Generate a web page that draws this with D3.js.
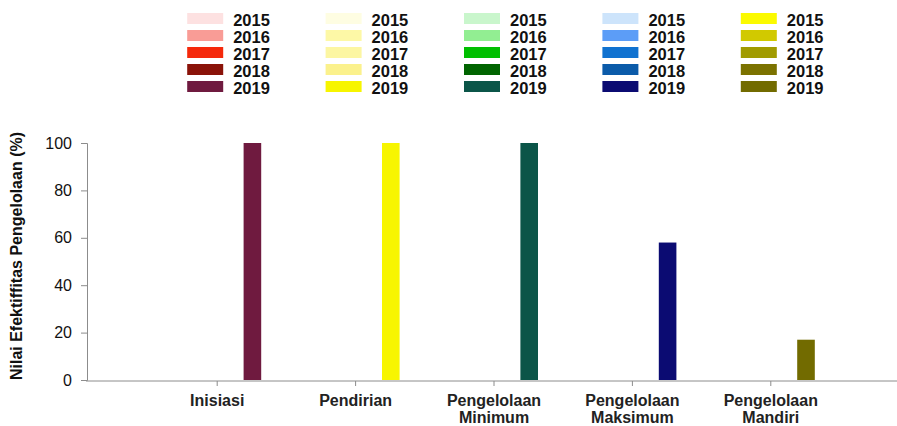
<!DOCTYPE html>
<html>
<head>
<meta charset="utf-8">
<script src="https://cdn.jsdelivr.net/npm/d3@7"></script>
<style>
  body { margin: 0; background: #fff; }
  svg { display: block; }
</style>
</head>
<body>
<div id="chart"></div>
<script>
// categories and years
var categories = ["Inisiasi", "Pendirian", "Pengelolaan Minimum", "Pengelolaan Maksimum", "Pengelolaan Mandiri"];
var years = ["2015", "2016", "2017", "2018", "2019"];

// values per year (one per category)
var values2015 = [0, 0, 0, 0, 0];
var values2016 = [0, 0, 0, 0, 0];
var values2017 = [0, 0, 0, 0, 0];
var values2018 = [0, 0, 0, 0, 0];
var values2019 = [100, 100, 100, 58, 17];

var yTicks = [0, 20, 40, 60, 80, 100];

// colours per category, 2015 -> 2019
var colInisiasi = ["#fde1e1", "#f99c96", "#f5290b", "#8a1309", "#6f1a3f"];
var colPendirian = ["#fefde2", "#fdf8a6", "#fcf6a2", "#fbf18c", "#f7f500"];
var colMinimum = ["#c9f6cc", "#92ee92", "#00bf00", "#006400", "#0b5548"];
var colMaksimum = ["#cde4fb", "#5c9df7", "#1072d0", "#0b5ba9", "#0b0b72"];
var colMandiri = ["#fbfa00", "#d1c900", "#a19b00", "#7b7200", "#726b00"];

var colors = [colInisiasi, colPendirian, colMinimum, colMaksimum, colMandiri];
var seriesValues = [values2015, values2016, values2017, values2018, values2019];

var W = 897, H = 426;
var font = "'Liberation Sans', Arial, Helvetica, sans-serif";

var svg = d3.select("#chart").append("svg")
    .attr("width", W)
    .attr("height", H)
    .style("font-family", font);

// scales
var x0 = d3.scaleBand().domain(categories).range([148, 840]).padding(0);
var x1 = d3.scaleBand().domain(years).range([0, 88]).padding(0);
var y = d3.scaleLinear().domain([0, 100]).range([380, 143]);

// build bar data
var bars = [];
categories.forEach(function(c, ci) {
  years.forEach(function(yr, yi) {
    bars.push({cat: c, year: yr, value: seriesValues[yi][ci], color: colors[ci][yi]});
  });
});

svg.append("g").selectAll("rect")
  .data(bars.filter(function(d) { return d.value > 0; }))
  .enter().append("rect")
    .attr("x", function(d) { return x0(d.cat) + x0.bandwidth() / 2 - 44 + x1(d.year); })
    .attr("y", function(d) { return y(d.value); })
    .attr("width", x1.bandwidth())
    .attr("height", function(d) { return y(0) - y(d.value); })
    .style("fill", function(d) { return d.color; });

// y axis
var yAxis = svg.append("g")
    .attr("transform", "translate(87,0)")
    .call(d3.axisLeft(y).tickValues(yTicks).tickSize(6).tickPadding(9));
yAxis.select(".domain").attr("stroke", "#8c8c8c");
yAxis.selectAll(".tick line").attr("stroke", "#8c8c8c");
yAxis.selectAll(".tick text")
    .style("font-size", "16px")
    .style("font-family", font)
    .attr("fill", "#111");

// y label
svg.append("text")
    .attr("transform", "translate(22,256) rotate(-90)")
    .attr("text-anchor", "middle")
    .style("font-size", "16px")
    .style("font-weight", "bold")
    .attr("fill", "#111")
    .text("Nilai Efektiffitas Pengelolaan (%)");

// x axis
var xAxis = svg.append("g")
    .attr("transform", "translate(0,381)")
    .call(d3.axisBottom(x0).tickSize(5));
xAxis.select(".domain").remove();
xAxis.selectAll(".tick line").attr("stroke", "#8c8c8c");
xAxis.append("line")
    .attr("x1", 86).attr("x2", W)
    .attr("y1", 0).attr("y2", 0)
    .attr("stroke", "#8c8c8c");
xAxis.selectAll(".tick text").each(function(d) {
  var t = d3.select(this);
  var words = d.split(" ");
  t.text(null)
    .attr("y", 25)
    .attr("dy", null)
    .style("font-size", "16px")
    .style("font-weight", "bold")
    .style("font-family", font)
    .attr("fill", "#222");
  words.forEach(function(w, i) {
    t.append("tspan").attr("x", 0).attr("dy", i === 0 ? 0 : 17).text(w);
  });
});

// legend: one column per category
var legend = svg.append("g");
categories.forEach(function(c, ci) {
  var lx = x0(c) + x0.bandwidth() / 2 - 30;
  years.forEach(function(yr, yi) {
    var ly = 13 + yi * 17;
    legend.append("rect")
      .attr("x", lx).attr("y", ly)
      .attr("width", 36).attr("height", 11)
      .style("fill", colors[ci][yi]);
    legend.append("text")
      .attr("x", lx + 46).attr("y", ly + 12.5)
      .style("font-size", "16.5px")
      .style("font-weight", "bold")
      .attr("fill", "#111")
      .text(yr);
  });
});
</script>
</body>
</html>
